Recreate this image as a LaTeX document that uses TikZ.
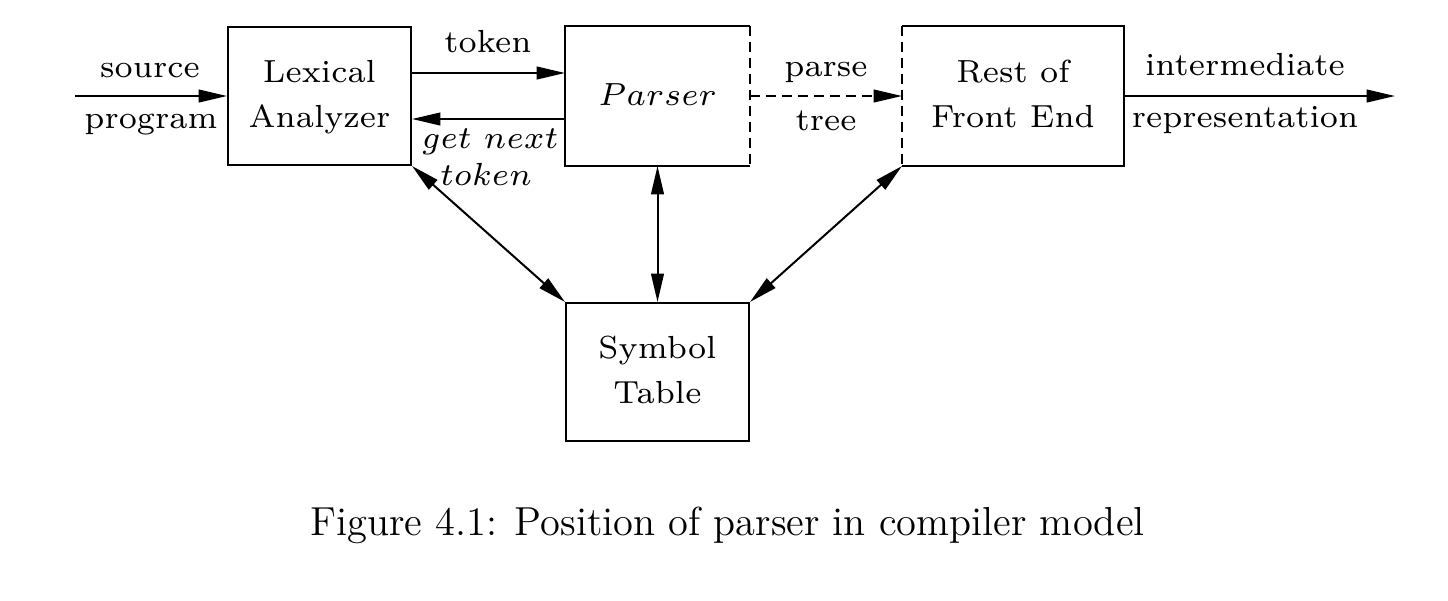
\documentclass[tikz,border=0pt]{standalone}
\usetikzlibrary{arrows.meta}
\newcommand\dsc{1.37}
\newcommand\dbox[1]{\scalebox{\dsc}{\fontsize{7}{9.85}\selectfont\begin{tabular}{@{}c@{}}#1\end{tabular}}}
\newcommand\dlab[1]{\scalebox{\dsc}{\fontsize{7}{9.85}\selectfont #1}}
\begin{document}
\begin{tikzpicture}[x=0.3pt,y=-0.3pt, line width=0.6pt,
  box/.style={inner sep=0pt, minimum width=54.9pt, minimum height=41.4pt},
  arr/.style={-{Triangle[length=8.5pt,width=3.8pt]}},
  darr/.style={{Triangle[length=8.5pt,width=3.8pt]}-{Triangle[length=8.5pt,width=3.8pt]}},
  dsh/.style={dash pattern=on 3pt off 1.8pt},
  lab/.style={anchor=base, inner sep=0pt}]
\useasboundingbox (0,0) rectangle (1448,600);
\node[box,draw] (lex) at (319.5,96) {\dbox{Lexical\\Analyzer}};
\node[box] (par) at (657.5,96) {\dbox{$Parser$}};
\node[box, minimum width=66pt] (rest) at (1013,96) {\dbox{Rest of\\Front End}};
\node[box,draw] (sym) at (657.5,372) {\dbox{Symbol\\Table}};
\draw (par.north east) -- (par.north west) -- (par.south west) -- (par.south east);
\draw[dsh] (par.north east) -- (par.south east);
\draw (rest.north west) -- (rest.north east) -- (rest.south east) -- (rest.south west);
\draw[dsh] (rest.north west) -- (rest.south west);
\coordinate (in) at (75,96);
\coordinate (out) at (1395,96);
\draw[arr] (in) -- (lex.west);
\draw[arr] ([yshift=6.9pt]lex.east) -- ([yshift=6.9pt]par.west);
\draw[arr] ([yshift=-6.9pt]par.west) -- ([yshift=-6.9pt]lex.east);
\draw[arr,dsh] (par.east) -- (rest.west);
\draw[arr] (rest.east) -- (out);
\draw[darr] (lex.south east) -- (sym.north west);
\draw[darr] (par.south) -- (sym.north);
\draw[darr] (rest.south west) -- (sym.north east);
\node[lab] (lsrc) at (150,77) {\dlab{source}};
\node[lab] (lprog) at (151,128) {\dlab{program}};
\node[lab] (ltok) at (488,52) {\dlab{token}};
\node[lab] (lget) at (490,148) {\dlab{$get\ next$}};
\node[lab] (ltok2) at (486,185) {\dlab{$token$}};
\node[lab] (lparse) at (826,76) {\dlab{parse}};
\node[lab] (ltree) at (826,130) {\dlab{tree}};
\node[lab] (lint) at (1245,75) {\dlab{intermediate}};
\node[lab] (lrep) at (1245,127) {\dlab{representation}};
\node[lab] (cap) at (727.5,535) {\fontsize{12.15}{14}\selectfont Figure 4.1: Position of parser in compiler model};
\end{tikzpicture}
\end{document}
